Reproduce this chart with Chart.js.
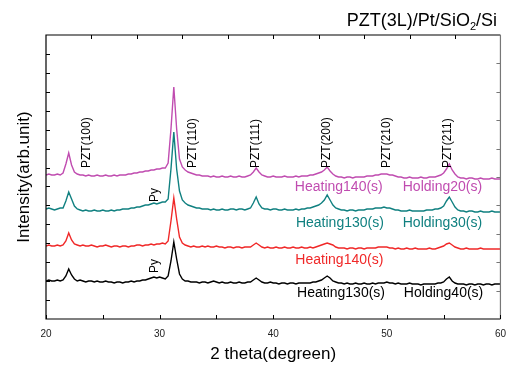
<!DOCTYPE html>
<html>
<head>
<meta charset="utf-8">
<script src="https://cdn.jsdelivr.net/npm/chart.js@4/dist/chart.umd.min.js"></script>
<style>
  html, body { margin: 0; padding: 0; background: #fff; }
  canvas { display: block; }
</style>
</head>
<body>
<canvas id="xrd" width="515" height="368"></canvas>
<script>
// scan positions (2theta, degree)
const twoTheta = [
  20.00,20.25,20.50,20.75,21.00,21.25,21.50,21.75,22.00,22.25,22.50,22.75,23.00,23.25,23.50,23.75,
  24.00,24.25,24.50,24.75,25.00,25.25,25.50,25.75,26.00,26.25,26.50,26.75,27.00,27.25,27.50,27.75,
  28.00,28.25,28.50,28.75,29.00,29.25,29.50,29.75,30.00,30.25,30.50,30.75,31.00,31.25,31.50,31.75,
  32.00,32.25,32.50,32.75,33.00,33.25,33.50,33.75,34.00,34.25,34.50,34.75,35.00,35.25,35.50,35.75,
  36.00,36.25,36.50,36.75,37.00,37.25,37.50,37.75,38.00,38.25,38.50,38.75,39.00,39.25,39.50,39.75,
  40.00,40.25,40.50,40.75,41.00,41.25,41.50,41.75,42.00,42.25,42.50,42.75,43.00,43.25,43.50,43.75,
  44.00,44.25,44.50,44.75,45.00,45.25,45.50,45.75,46.00,46.25,46.50,46.75,47.00,47.25,47.50,47.75,
  48.00,48.25,48.50,48.75,49.00,49.25,49.50,49.75,50.00,50.25,50.50,50.75,51.00,51.25,51.50,51.75,
  52.00,52.25,52.50,52.75,53.00,53.25,53.50,53.75,54.00,54.25,54.50,54.75,55.00,55.25,55.50,55.75,
  56.00,56.25,56.50,56.75,57.00,57.25,57.50,57.75,58.00,58.25,58.50,58.75,59.00,59.25,59.50,59.75,
  60.00
];

// intensities (arb. unit, traces already offset)
const heat130hold40 = [
  38,39,38,38,39,38,39,43,50,44,40,38,39,38,37,38,
  38,37,38,37,37,38,37,37,36,37,37,36,37,37,38,37,
  38,38,39,39,40,41,42,41,42,41,40,43,58,77,60,45,
  40,38,38,37,37,37,36,37,37,36,37,38,37,36,37,36,
  36,37,36,36,37,36,36,37,37,39,41,39,37,36,36,37,
  36,36,35,36,36,35,36,36,35,36,36,36,36,36,37,37,
  38,39,41,43,41,38,37,36,36,35,36,35,35,36,35,35,
  36,35,35,36,35,36,36,36,37,36,36,35,36,35,35,35,
  36,35,35,35,34,35,35,35,35,35,36,36,37,40,42,38,
  36,35,35,35,34,35,35,34,35,35,34,35,35,34,35,35,
  35
];
const heat140 = [
  73,74,73,73,74,73,74,78,86,79,75,74,73,74,73,73,
  74,73,72,73,73,74,73,72,73,73,72,73,73,72,73,73,
  74,74,73,74,74,75,74,75,75,76,75,78,98,121,100,82,
  76,74,73,72,73,72,72,73,72,73,72,72,73,72,72,71,
  72,72,71,72,72,71,72,72,72,74,76,74,72,71,72,71,
  71,72,71,71,72,71,71,72,71,71,72,71,71,72,71,72,
  73,74,75,76,75,74,72,71,71,71,70,71,71,70,71,71,
  70,71,71,71,71,72,72,72,72,71,71,70,71,70,70,71,
  70,70,71,70,70,70,70,71,70,70,71,72,73,75,76,74,
  72,71,70,70,71,70,70,70,70,71,70,70,70,70,70,70,
  70
];
const heat130hold30 = [
  110,111,110,109,110,111,111,118,127,120,113,110,109,108,109,108,
  108,109,108,108,109,108,108,109,108,109,109,110,110,110,111,111,
  112,112,113,114,114,115,116,115,116,117,117,120,150,187,150,128,
  119,116,114,113,112,111,111,110,110,110,109,110,109,109,110,109,
  109,110,110,109,110,110,109,110,111,116,122,115,111,110,110,109,
  110,110,109,109,110,109,109,109,110,109,110,110,111,111,112,113,
  114,116,119,124,119,114,111,110,109,109,108,109,109,108,109,109,
  109,110,110,110,111,111,111,112,111,111,110,109,109,108,108,108,
  109,108,108,108,108,108,109,109,109,110,110,111,113,118,122,117,
  112,109,108,108,107,108,108,107,107,108,107,107,107,108,107,107,
  107
];
const heat140hold20 = [
  144,145,144,144,145,144,146,155,166,154,147,145,144,144,143,144,
  143,143,144,143,143,144,143,143,144,143,144,144,144,145,145,146,
  146,147,147,148,148,149,149,150,150,151,151,156,190,232,190,160,
  152,149,147,146,145,144,144,143,143,143,142,143,142,142,143,142,
  142,143,142,142,143,142,142,143,144,147,151,147,144,143,142,142,
  143,142,142,142,143,142,142,142,143,142,143,143,143,144,144,145,
  146,147,149,152,148,145,143,142,142,141,142,142,141,142,142,142,
  142,143,143,143,144,144,145,145,145,144,144,143,142,142,141,141,
  142,141,141,141,142,141,141,142,142,142,143,144,146,150,155,149,
  145,142,141,141,140,141,141,140,140,141,140,140,140,141,140,140,
  140
];

const seriesNames = ['Heating130(s) Holding40(s)', 'Heating140(s)', 'Heating130(s) Holding30(s)', 'Heating140(s) Holding20(s)'];
const seriesColors = ['#000000', '#F02828', '#108080', '#C04CB0'];
const seriesData = [heat130hold40, heat140, heat130hold30, heat140hold20];

// peak marks: text, 2theta, intensity where the text starts
const peakLabels = ['PZT(100)', 'PZT(110)', 'PZT(111)', 'PZT(200)', 'PZT(210)', 'PZT(211)', 'Py', 'Py'];
const peakAt = [23.6, 32.92, 38.46, 44.7, 49.98, 55.34, 29.58, 29.58];
const peakLabelBase = [151, 151, 151, 151, 151, 151, 117, 46];

// trace captions: text, 2theta, intensity, colour index
const captionText = ['Heating140(s)', 'Holding20(s)', 'Heating130(s)', 'Holding30(s)', 'Heating140(s)', 'Heating130(s)', 'Holding40(s)'];
const captionAt = [41.9, 51.4, 42.0, 51.4, 41.95, 42.1, 51.5];
const captionLevel = [132, 132, 96, 96, 59, 26, 26];
const captionSeries = [3, 3, 2, 2, 1, 0, 0];

const FONT = '"Liberation Sans", Arial, sans-serif';

const datasets = seriesData.map((vals, k) => ({
  label: seriesNames[k],
  data: vals.map((v, i) => ({ x: twoTheta[i], y: v })),
  borderColor: seriesColors[k],
  borderWidth: 1.4,
  pointRadius: 0,
  tension: 0,
  fill: false
}));

const decorations = {
  id: 'decorations',
  afterDraw(chart) {
    const { ctx, chartArea: a, scales: { x, y } } = chart;
    ctx.save();
    // frame
    ctx.lineWidth = 1.2;
    ctx.strokeStyle = '#000';
    ctx.beginPath();
    ctx.moveTo(a.right, a.top); ctx.lineTo(a.left, a.top);
    ctx.lineTo(a.left, a.bottom); ctx.lineTo(a.right, a.bottom);
    ctx.stroke();
    ctx.strokeStyle = '#777';
    ctx.beginPath(); ctx.moveTo(a.right, a.top); ctx.lineTo(a.right, a.bottom); ctx.stroke();

    // inward ticks
    ctx.lineWidth = 1;
    ctx.strokeStyle = '#000';
    ctx.beginPath();
    for (let v = 20; v <= 60; v += 5) {
      const px = Math.round(x.getPixelForValue(v)) + 0.5;
      ctx.moveTo(px, a.bottom); ctx.lineTo(px, a.bottom - 4);
    }
    for (let v = 24; v < 60; v += 4) {
      const px = Math.round(x.getPixelForValue(v)) + 0.5;
      ctx.moveTo(px, a.top); ctx.lineTo(px, a.top + 4);
    }
    for (let k = 1; k < 15; k++) {
      const py = Math.round(y.getPixelForValue(y.max * k / 15)) + 0.5;
      ctx.moveTo(a.left, py); ctx.lineTo(a.left + 4, py);
    }
    ctx.stroke();
    ctx.strokeStyle = '#777';
    ctx.beginPath();
    for (let k = 1; k < 10; k++) {
      const py = Math.round(y.getPixelForValue(y.max * k / 10)) + 0.5;
      ctx.moveTo(a.right, py); ctx.lineTo(a.right - 4, py);
    }
    ctx.stroke();

    // peak labels (vertical)
    ctx.fillStyle = '#000';
    ctx.font = '12px ' + FONT;
    ctx.textAlign = 'left';
    ctx.textBaseline = 'middle';
    peakLabels.forEach((t, i) => {
      ctx.save();
      ctx.translate(x.getPixelForValue(peakAt[i]), y.getPixelForValue(peakLabelBase[i]));
      ctx.rotate(-Math.PI / 2);
      ctx.fillText(t, 0, 0);
      ctx.restore();
    });

    // trace captions
    ctx.font = '14px ' + FONT;
    captionText.forEach((t, i) => {
      ctx.fillStyle = seriesColors[captionSeries[i]];
      ctx.fillText(t, x.getPixelForValue(captionAt[i]), y.getPixelForValue(captionLevel[i]));
    });

    // sample title, right-aligned to the frame
    ctx.fillStyle = '#000';
    ctx.textBaseline = 'alphabetic';
    const big = '18px ' + FONT, small = '11px ' + FONT;
    ctx.font = big;
    const w1 = ctx.measureText('PZT(3L)/Pt/SiO').width, w3 = ctx.measureText('/Si').width;
    ctx.font = small;
    const w2 = ctx.measureText('2').width;
    let tx = 497 - (w1 + w2 + w3);
    const ty = 26;
    ctx.font = big;
    ctx.fillText('PZT(3L)/Pt/SiO', tx, ty);
    tx += w1;
    ctx.font = small;
    ctx.fillText('2', tx, ty + 4);
    tx += w2;
    ctx.font = big;
    ctx.fillText('/Si', tx, ty);
    ctx.restore();
  }
};

new Chart(document.getElementById('xrd'), {
  type: 'line',
  data: { datasets },
  options: {
    responsive: false,
    animation: false,
    devicePixelRatio: 1,
    layout: { padding: { top: 35, right: 14, left: 0, bottom: 0 } },
    plugins: { legend: { display: false }, tooltip: { enabled: false } },
    scales: {
      x: {
        type: 'linear',
        min: 20, max: 60,
        grid: { display: false, drawTicks: false },
        border: { display: false },
        ticks: { stepSize: 10, padding: 9, color: '#222', font: { size: 10, family: FONT }, maxRotation: 0 },
        title: { display: true, text: '2 theta(degreen)', color: '#000', font: { size: 17, family: FONT }, padding: { top: 0, bottom: 3 } },
        afterFit(s) { s.height = 49; }
      },
      y: {
        min: 0, max: 284,
        grid: { display: false, drawTicks: false },
        border: { display: false },
        ticks: { display: false },
        title: { display: true, text: 'Intensity(arb.unit)', color: '#000', font: { size: 17, family: FONT }, padding: { top: 14, bottom: 0 } },
        afterFit(s) { s.width = 46; }
      }
    }
  },
  plugins: [decorations]
});
</script>
</body>
</html>
